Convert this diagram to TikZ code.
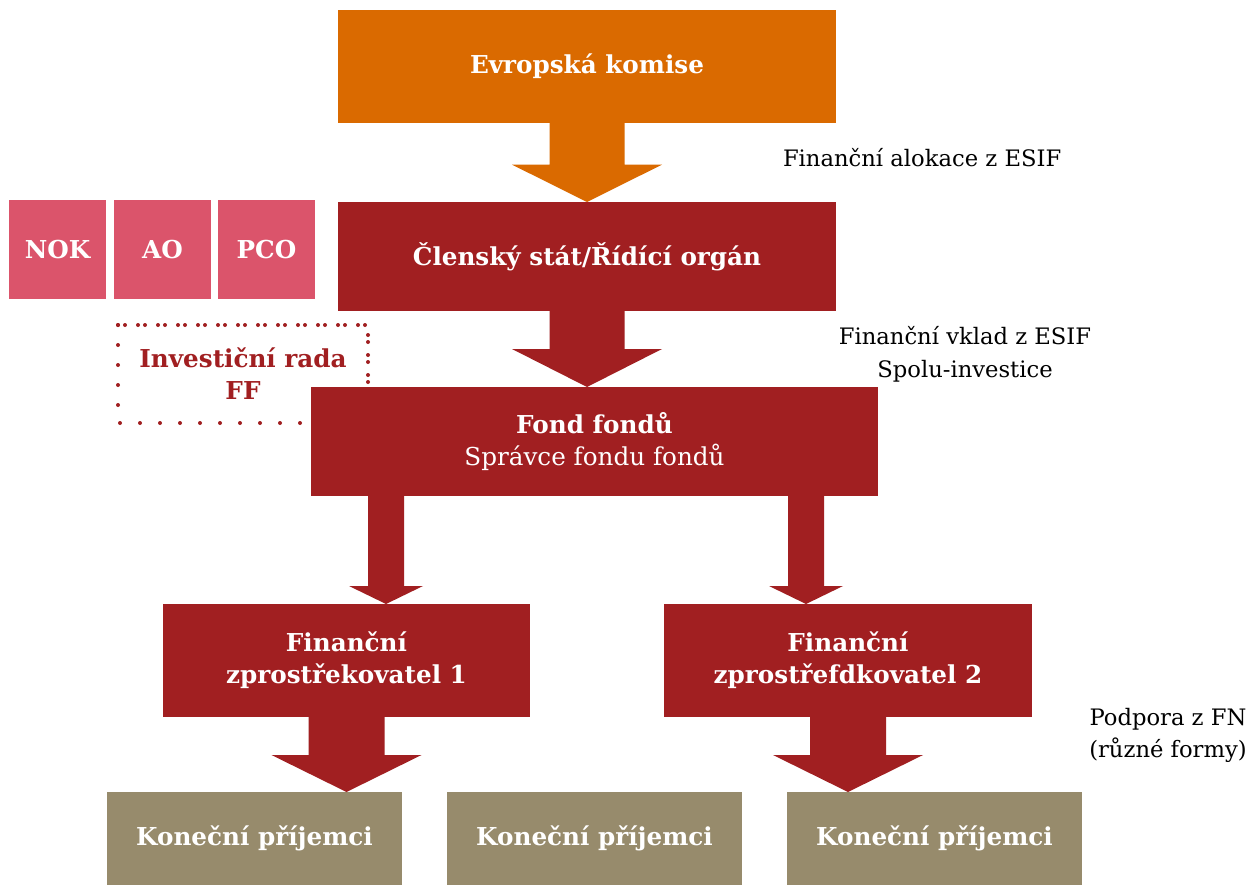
\documentclass[tikz,border=0pt]{standalone}
\usepackage{fontspec}
\setmainfont{DejaVu Serif}
\usetikzlibrary{calc}
\definecolor{ekorange}{HTML}{DA6A00}
\definecolor{darkred}{HTML}{A11F21}
\definecolor{pinkbox}{HTML}{DB546B}
\definecolor{khaki}{HTML}{978B6C}
% #1 colour, #2 start, #3 target, #4 shaft half width, #5 head half width, #6 head length
\newcommand\blockarrow[6]{%
  \fill[#1] let \p1=(#2), \p2=(#3) in
    (\x1-#4,\y1) -- (\x1-#4,\y2+#6) -- (\x1-#5,\y2+#6) -- (\x1,\y2)
    -- (\x1+#5,\y2+#6) -- (\x1+#4,\y2+#6) -- (\x1+#4,\y1) -- cycle;}
\begin{document}
\begin{tikzpicture}[x=0.75pt,y=-0.75pt,
  box/.style={rectangle,inner sep=0pt,outer sep=0pt,draw=none,text=white,align=center,
    font=\fontsize{18.5}{24}\selectfont\bfseries},
  lab/.style={inner sep=0pt,outer sep=0pt,align=center,text=black,
    font=\fontsize{17}{24.5}\selectfont}]
\useasboundingbox[fill=white] (0,0) rectangle (1260,885);

% dotted investment board box (behind Fond fondu)
\node[inner sep=0pt,outer sep=0pt,minimum width=187.5pt,minimum height=73.5pt,
  align=center,text=darkred,font=\fontsize{18.5}{24}\selectfont\bfseries] (ir) at (243,374)
  {Investiční rada\\FF};
\draw[darkred,line width=3pt,line cap=round,dash pattern=on 0pt off 5.25pt on 0pt off 9.75pt]
  (ir.north west) -- (ir.north east) -- (ir.south east);
\draw[darkred,line width=3pt,line cap=round,dash pattern=on 0pt off 15pt]
  (ir.north west) -- (ir.south west) -- (ir.south east);

% main boxes
\node[box,fill=ekorange,minimum width=373.5pt,minimum height=84.75pt] (ek) at (587,66.5) {Evropská komise};
\node[box,fill=darkred,minimum width=373.5pt,minimum height=81.75pt] (cs) at (587,256.5) {Členský stát/Řídící orgán};
\node[box,fill=darkred,minimum width=425.25pt,minimum height=81.75pt] (ff) at (594.5,441.5)
  {Fond fondů\\{\mdseries Správce fondu fondů}};
\node[box,fill=darkred,minimum width=275.25pt,minimum height=84.75pt] (fz1) at (346.5,660.5)
  {Finanční\\zprostřekovatel 1};
\node[box,fill=darkred,minimum width=276pt,minimum height=84.75pt] (fz2) at (848,660.5)
  {Finanční\\zprostřefdkovatel 2};
\node[box,fill=khaki,minimum width=221.25pt,minimum height=69.75pt] (kp1) at (254.5,838.5) {Koneční příjemci};
\node[box,fill=khaki,minimum width=221.25pt,minimum height=69.75pt] (kp2) at (594.5,838.5) {Koneční příjemci};
\node[box,fill=khaki,minimum width=221.25pt,minimum height=69.75pt] (kp3) at (934.5,838.5) {Koneční příjemci};

% pink boxes
\node[box,fill=pinkbox,minimum width=72.75pt,minimum height=74.25pt] (nok) at (57.5,249.5) {NOK};
\node[box,fill=pinkbox,minimum width=72.75pt,minimum height=74.25pt] (ao) at (162.5,249.5) {AO};
\node[box,fill=pinkbox,minimum width=72.75pt,minimum height=74.25pt] (pco) at (266.5,249.5) {PCO};

% block arrows
\blockarrow{ekorange}{ek.south}{cs.north}{28.125pt}{56.25pt}{28pt}
\blockarrow{darkred}{cs.south}{ff.north}{28.125pt}{56.25pt}{28.5pt}
\blockarrow{darkred}{$(ff.south)+(-208.5,0)$}{fz1.north}{13.5pt}{27.75pt}{13.5pt}
\blockarrow{darkred}{$(ff.south)+(211.5,0)$}{fz2.north}{13.5pt}{27.75pt}{13.5pt}
\blockarrow{darkred}{fz1.south}{kp1.north}{28.5pt}{56.25pt}{27.75pt}
\blockarrow{darkred}{fz2.south}{kp3.north}{28.5pt}{56.25pt}{27.75pt}

% labels
\node[lab,anchor=west] (l1) at (783,158) {Finanční alokace z ESIF};
\node[lab] (l2) at (965,354) {Finanční vklad z ESIF\\Spolu-investice};
\node[lab] (l3) at (1168,735.5) {Podpora z FN\\(různé formy)};
\end{tikzpicture}
\end{document}
